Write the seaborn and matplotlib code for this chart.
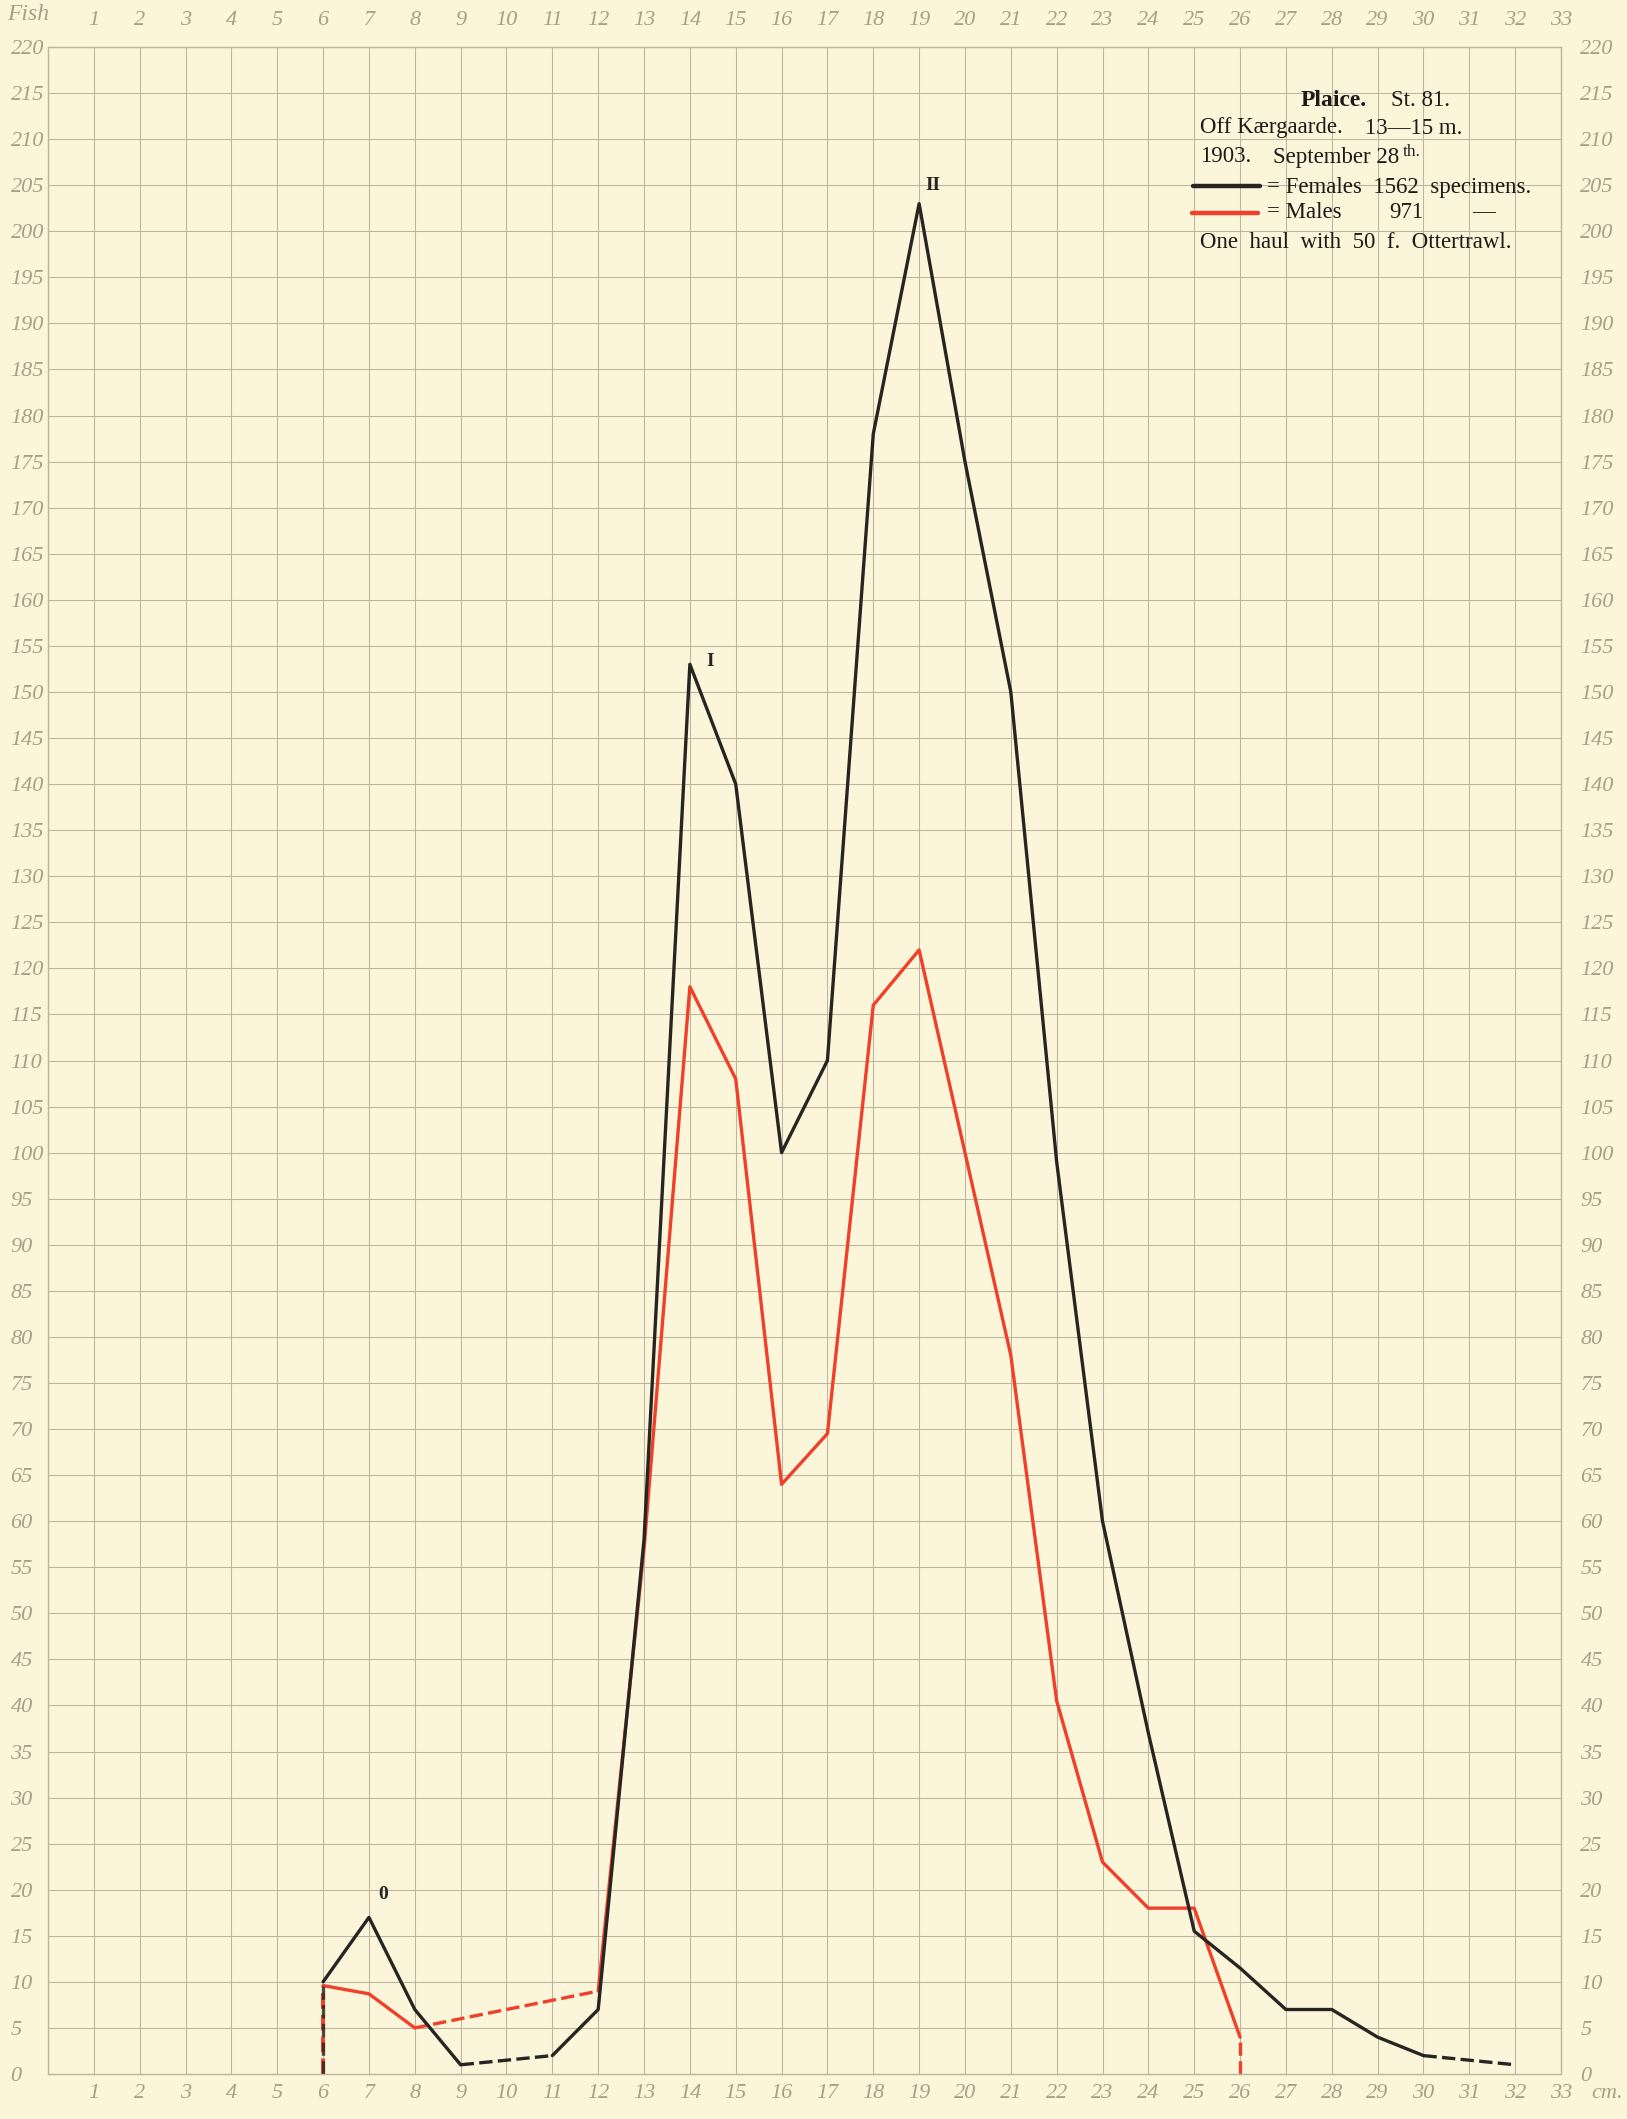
import matplotlib
matplotlib.use('Agg')
import matplotlib.pyplot as plt
from matplotlib.lines import Line2D
import numpy as np
import pandas as pd
import seaborn as sns

# length groups (cm) and number of fish
female_cm = [6, 7, 8, 9, 11, 12, 13, 14, 15, 16, 17, 18, 19, 20, 21, 22, 23, 24, 25, 26, 27, 28, 29, 30, 32]
females = [10, 17, 7, 1, 2, 7, 58, 153, 140, 100, 110, 178, 203, 175, 150, 99, 60, 37, 15.5, 11.5, 7, 7, 4, 2, 1]
male_cm = [6, 7, 8, 12, 13, 14, 15, 16, 17, 18, 19, 20, 21, 22, 23, 24, 25, 26]
males = [9.6, 8.7, 5, 9, 57, 118, 108, 64, 69.5, 116, 122, 100, 78, 40.5, 23, 18, 18, 4]
x_ticks = list(range(1, 34))
y_ticks = list(range(0, 221, 5))
peak_names = ['0', 'I', 'II']
peak_cm = [7, 14, 19]

W, H = 1627, 2119
PAPER = '#fbf5d9'
GRID = '#bcb5a0'
LABEL = '#a89f8a'
BLACK = '#262521'
RED = '#f0402a'
LW = 2.4
DASH = (0, (4, 1.6))

sns.set_style('white', {'axes.facecolor': PAPER, 'figure.facecolor': PAPER})
plt.rcParams['font.family'] = ['Liberation Serif', 'DejaVu Serif']

fig = plt.figure(figsize=(W / 100, H / 100), dpi=100)
ax = fig.add_axes([48 / W, 45 / H, (1561 - 48) / W, (2074 - 47) / H])
ax.set_xlim(0, 33)
ax.set_ylim(0, 220)


def draw_series(xs, ys, color):
    df = pd.DataFrame({'cm': xs, 'n': ys})
    gap = df['cm'].diff() > 1
    for _, part in df.groupby(gap.cumsum()):
        sns.lineplot(data=part, x='cm', y='n', ax=ax, color=color, lw=LW,
                     estimator=None, sort=False, solid_joinstyle='round')
    for i in df.index[gap]:
        seg = df.loc[[i - 1, i]]
        sns.lineplot(data=seg, x='cm', y='n', ax=ax, color=color, lw=LW,
                     linestyle=DASH, estimator=None, sort=False)


draw_series(male_cm, males, RED)
draw_series(female_cm, females, BLACK)

# dashed drops to the base line at the ends of the curves
ax.vlines(male_cm[0], 0, males[0], color=RED, lw=LW + 0.4, linestyle=DASH)
ax.vlines(female_cm[0], 0, males[0], color=BLACK, lw=LW, linestyle=DASH, alpha=0.8)
ax.vlines(male_cm[-1], 0, males[-1], color=RED, lw=LW, linestyle=DASH)

# peak marks
offsets = {'0': (0.3, 2.5), 'I': (0.45, 0.3), 'II': (0.3, 2.0)}
fvals = dict(zip(female_cm, females))
for name, cm in zip(peak_names, peak_cm):
    dx, dy = offsets[name]
    ax.text(cm + dx, fvals[cm] + dy, name, fontsize=14, fontweight='bold',
            color=BLACK, ha='center', va='center')

# grid paper
ax.set_xticks(range(0, 34))
ax.set_xticklabels([''] + [str(v) for v in x_ticks])
ax.set_yticks(y_ticks)
ax.set_yticklabels([str(v) for v in y_ticks])
ax.grid(True, color=GRID, lw=0.75)
ax.set_axisbelow(True)
for s in ax.spines.values():
    s.set_color(GRID)
    s.set_linewidth(1.0)
ax.set_xlabel('')
ax.set_ylabel('')

lab = dict(fontsize=16, style='italic', color=LABEL)
ax.tick_params(axis='y', length=0, pad=27)
ax.tick_params(axis='x', length=0, pad=7)
for t in ax.get_yticklabels():
    t.set_ha('left')
    t.set(**lab)
for t in ax.get_xticklabels():
    t.set(**lab)

right = ax.secondary_yaxis('right')
right.set_yticks(y_ticks)
right.set_yticklabels([str(v) for v in y_ticks], **lab)
right.tick_params(length=0, pad=14)
right.spines['right'].set_visible(False)

top = ax.secondary_xaxis('top')
top.set_xticks(x_ticks)
top.set_xticklabels([str(v) for v in x_ticks], **lab)
top.tick_params(length=0, pad=12)
top.spines['top'].set_visible(False)

ax.annotate('cm.', xy=(x_ticks[-1], 0), xycoords=('data', 'axes fraction'),
            xytext=(22, -7), textcoords='offset points', ha='left', va='top', **lab)


def ftext(x, y, s, **kw):
    kw.setdefault('fontsize', 16.5)
    kw.setdefault('color', '#1c1b18')
    fig.text(x / W, 1 - y / H, s, va='center', ha='left', **kw)


ftext(7, 14, 'Fish', fontsize=17, style='italic', color=LABEL)

# legend box text
ftext(1301, 100, 'Plaice.', fontweight='bold', fontsize=17)
ftext(1391, 100, 'St. 81.')
ftext(1200, 128, 'Off Kærgaarde.')
ftext(1365, 128, '13—15 m.')
ftext(1200, 157, '1903.')
ftext(1273, 157, 'September 28')
ftext(1403, 152, 'th.', fontsize=12.5)
ftext(1267, 187, '= Females  1562  specimens.')
ftext(1267, 213, '= Males')
ftext(1389, 213, '971')
ftext(1472, 213, '—')
ftext(1200, 242, 'One  haul  with  50  f.  Ottertrawl.')
fig.add_artist(Line2D([1193 / W, 1260 / W], [1 - 186 / H, 1 - 186 / H], color=BLACK, lw=3.2))
fig.add_artist(Line2D([1192 / W, 1258 / W], [1 - 213 / H, 1 - 213 / H], color=RED, lw=3.2))

fig.savefig('out.png', dpi=100, facecolor=PAPER)
